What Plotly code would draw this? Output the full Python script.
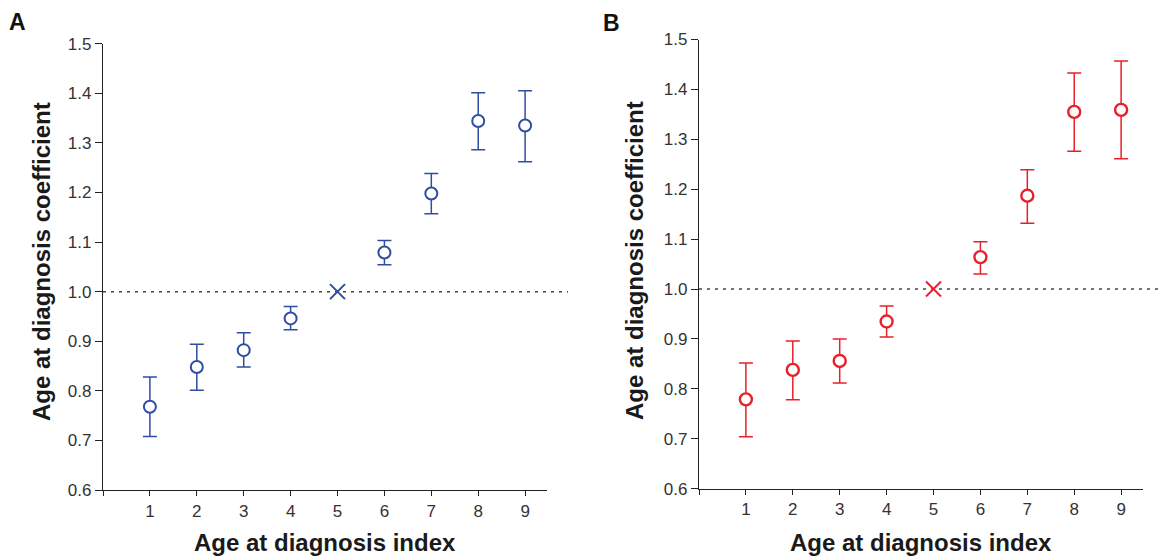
import plotly.graph_objects as go

# ---- data ----
idx = [1, 2, 3, 4, 5, 6, 7, 8, 9]
xtick_vals = [0, 1, 2, 3, 4, 5, 6, 7, 8, 9]
xtick_text = ["", "1", "2", "3", "4", "5", "6", "7", "8", "9"]
ytick_vals = [0.6, 0.7, 0.8, 0.9, 1.0, 1.1, 1.2, 1.3, 1.4, 1.5]

a_coef = [0.768, 0.848, 0.882, 0.946, 1.0, 1.079, 1.198, 1.344, 1.335]
a_upper = [0.828, 0.894, 0.917, 0.970, 1.0, 1.103, 1.238, 1.401, 1.405]
a_lower = [0.708, 0.801, 0.848, 0.923, 1.0, 1.054, 1.157, 1.286, 1.262]

b_coef = [0.779, 0.838, 0.856, 0.935, 1.0, 1.064, 1.187, 1.355, 1.359]
b_upper = [0.852, 0.896, 0.900, 0.966, 1.0, 1.095, 1.239, 1.433, 1.457]
b_lower = [0.704, 0.778, 0.812, 0.904, 1.0, 1.030, 1.132, 1.276, 1.261]

ref_index = 5
ref_value = 1.0

BLUE = "#2F4EA2"
RED = "#E8202A"
FONT = "Liberation Sans, Arial, sans-serif"

fig = go.Figure()


def add_panel(coef, upper, lower, color, xa, ya, mlw):
    xs = [x for x in idx if x != ref_index]
    ys = [c for x, c in zip(idx, coef) if x != ref_index]
    up = [u - c for x, c, u in zip(idx, coef, upper) if x != ref_index]
    lo = [c - l for x, c, l in zip(idx, coef, lower) if x != ref_index]
    fig.add_trace(go.Scatter(
        x=xs, y=ys, mode="markers", xaxis=xa, yaxis=ya, showlegend=False,
        marker=dict(symbol="circle", size=12, color="white",
                    line=dict(color=color, width=mlw)),
        error_y=dict(type="data", symmetric=False, array=up, arrayminus=lo,
                     color=color, thickness=1.5, width=7),
    ))
    fig.add_trace(go.Scatter(
        x=[ref_index], y=[ref_value], mode="markers", xaxis=xa, yaxis=ya,
        showlegend=False,
        marker=dict(symbol="x-thin-open", size=15, color=color,
                    line=dict(color=color, width=2)),
    ))


add_panel(a_coef, a_upper, a_lower, BLUE, "x", "y", 2)
add_panel(b_coef, b_upper, b_lower, RED, "x2", "y2", 2.4)

xa_dom = [103 / 1159, 546.7 / 1159]
xb_dom = [699 / 1159, 1142.7 / 1159]
ya_dom = [(556 - 490) / 556, (556 - 43.7) / 556]
yb_dom = [(556 - 488.7) / 556, (556 - 39.5) / 556]
XR = [0, 9.46]

common_x = dict(range=XR, tickvals=xtick_vals, ticktext=xtick_text,
                showline=True, linecolor="#222", linewidth=1.3,
                ticks="outside", ticklen=5, tickwidth=1.2, tickcolor="#222",
                tickfont=dict(family=FONT, size=17, color="#333"),
                showgrid=False, zeroline=False, fixedrange=True,
                automargin=False)
common_y = dict(range=[0.6, 1.5], tickvals=ytick_vals, tickformat=".1f",
                showline=True, linecolor="#222", linewidth=1.3,
                ticks="outside", ticklen=7, tickwidth=1.2, tickcolor="#222",
                tickfont=dict(family=FONT, size=17, color="#333"),
                showgrid=False, zeroline=False, fixedrange=True,
                automargin=False)
inner_x = dict(range=XR, tickvals=xtick_vals, showticklabels=False,
               ticks="inside", ticklen=5, tickwidth=1.2, tickcolor="#222",
               showline=False, showgrid=False, zeroline=False, fixedrange=True,
               automargin=False)

fig.update_layout(
    width=1159, height=556,
    margin=dict(l=0, r=0, t=0, b=0, pad=0, autoexpand=False),
    paper_bgcolor="white", plot_bgcolor="white",
    xaxis=dict(domain=xa_dom, anchor="y", **common_x),
    yaxis=dict(domain=ya_dom, anchor="x", **common_y),
    xaxis2=dict(domain=xb_dom, anchor="y2", **common_x),
    yaxis2=dict(domain=yb_dom, anchor="x2", **common_y),
    xaxis3=dict(overlaying="x", anchor="y", **inner_x),
    xaxis4=dict(overlaying="x2", anchor="y2", **inner_x),
    showlegend=False,
)

# dotted reference lines (extend past the x-axis end as in the original)
fig.add_shape(type="line", xref="x domain", yref="y", x0=0, x1=1.048,
              y0=ref_value, y1=ref_value, layer="below",
              line=dict(color="#444", width=1.5, dash="3px,5px"))
fig.add_shape(type="line", xref="x2 domain", yref="y2", x0=0, x1=1.037,
              y0=ref_value, y1=ref_value, layer="below",
              line=dict(color="#444", width=1.5, dash="3px,5px"))

title_font = dict(family=FONT, size=24, color="#1a1a1a")
ann = [
    dict(text="<b>A</b>", x=7 / 1159, y=(556 - 22.5) / 556, xanchor="left",
         yanchor="middle", font=dict(family=FONT, size=23, color="#111")),
    dict(text="<b>B</b>", x=601 / 1159, y=(556 - 23.5) / 556, xanchor="left",
         yanchor="middle", font=dict(family=FONT, size=23, color="#111")),
    dict(text="<b>Age at diagnosis coefficient</b>", textangle=-90,
         x=41 / 1159, y=(556 - 262) / 556, xanchor="center", yanchor="middle",
         font=title_font),
    dict(text="<b>Age at diagnosis coefficient</b>", textangle=-90,
         x=634 / 1159, y=(556 - 261) / 556, xanchor="center", yanchor="middle",
         font=title_font),
    dict(text="<b>Age at diagnosis index</b>", x=325 / 1159,
         y=(556 - 542) / 556, xanchor="center", yanchor="middle",
         font=title_font),
    dict(text="<b>Age at diagnosis index</b>", x=921 / 1159,
         y=(556 - 542) / 556, xanchor="center", yanchor="middle",
         font=title_font),
]
for a in ann:
    fig.add_annotation(xref="paper", yref="paper", showarrow=False, **a)

fig.write_html("out.html",
               config={"displayModeBar": False},
               post_script="document.body.style.margin='0';"
                           "document.body.style.padding='0';")
